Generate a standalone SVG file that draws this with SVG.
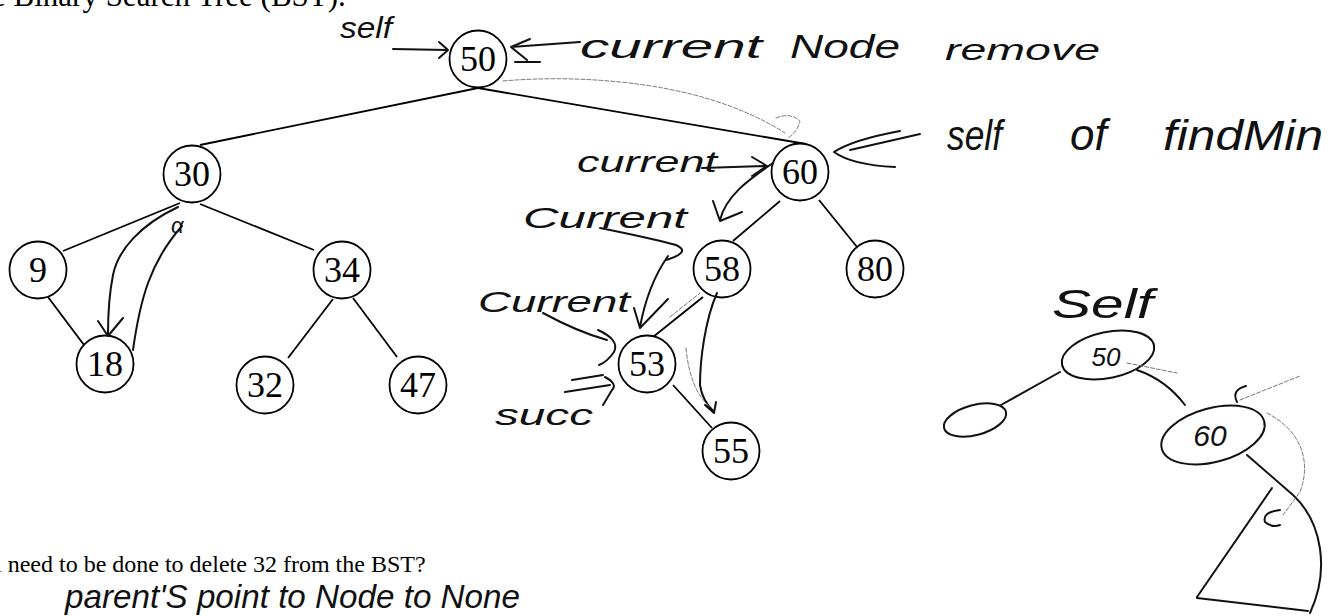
<svg xmlns="http://www.w3.org/2000/svg" width="1332" height="616" viewBox="0 0 1332 616">
  <style>
    .print { font-family: "Liberation Serif", "Times New Roman", serif; fill: #000; }
    .node circle { fill: #fff; stroke: #000; stroke-width: 1.8; }
    .node text { font-family: "Liberation Serif", "Times New Roman", serif; font-size: 36px; text-anchor: middle; fill: #000; }
    .edge { stroke: #000; stroke-width: 1.8; fill: none; }
    .hand { font-family: "Liberation Sans", Arial, sans-serif; font-style: italic; fill: #111; }
    .ink { stroke: #111; stroke-width: 2; fill: none; stroke-linecap: round; stroke-linejoin: round; }
    .faint { stroke: #777; stroke-width: 1; fill: none; stroke-dasharray: 4 2; stroke-linecap: round; }
  </style>

  <rect width="1332" height="616" fill="#fff"/>

  <!-- printed question text -->
  <text class="print" x="-8" y="6" font-size="31">e Binary Search Tree (BST).</text>
  <text class="print" x="-5" y="572" font-size="24">l need to be done to delete 32 from the BST?</text>

  <!-- tree edges -->
  <g id="connectors">
    <line class="edge" x1="478" y1="88" x2="200" y2="145"/>
    <line class="edge" x1="478" y1="88" x2="806" y2="144"/>
    <line class="edge" x1="180" y1="203" x2="63" y2="251"/>
    <line class="edge" x1="200" y1="204" x2="314" y2="250"/>
    <line class="edge" x1="48" y1="297" x2="84" y2="345"/>
    <line class="edge" x1="333" y1="299" x2="288" y2="358"/>
    <line class="edge" x1="353" y1="298" x2="397" y2="357"/>
    <line class="edge" x1="780" y1="201" x2="733" y2="241"/>
    <line class="edge" x1="819" y1="200" x2="857" y2="247"/>
    <line class="edge" x1="703" y1="297" x2="653" y2="337"/>
    <line class="edge" x1="673" y1="385" x2="712" y2="428"/>
  </g>

  <!-- tree nodes -->
  <g id="node-50" class="node"><circle cx="478" cy="59" r="28.5"/><text x="478" y="71">50</text></g>
  <g id="node-30" class="node"><circle cx="192" cy="174" r="28.5"/><text x="192" y="186">30</text></g>
  <g id="node-9" class="node"><circle cx="38" cy="270" r="28.5"/><text x="38" y="282">9</text></g>
  <g id="node-34" class="node"><circle cx="342" cy="270" r="28.5"/><text x="342" y="282">34</text></g>
  <g id="node-18" class="node"><circle cx="105" cy="364" r="28.5"/><text x="105" y="376">18</text></g>
  <g id="node-32" class="node"><circle cx="265" cy="385" r="28.5"/><text x="265" y="397">32</text></g>
  <g id="node-47" class="node"><circle cx="418" cy="385" r="28.5"/><text x="418" y="397">47</text></g>
  <g id="node-60" class="node"><circle cx="800" cy="172" r="28.5"/><text x="800" y="184">60</text></g>
  <g id="node-58" class="node"><circle cx="722" cy="269" r="28.5"/><text x="722" y="281">58</text></g>
  <g id="node-80" class="node"><circle cx="875" cy="269" r="28.5"/><text x="875" y="281">80</text></g>
  <g id="node-53" class="node"><circle cx="647" cy="364" r="28.5"/><text x="647" y="376">53</text></g>
  <g id="node-55" class="node"><circle cx="731" cy="451" r="28.5"/><text x="731" y="463">55</text></g>

  <!-- handwritten notes -->
  <g id="notes">
    <text class="hand" x="340" y="38" font-size="30" textLength="52" lengthAdjust="spacingAndGlyphs">self</text>
    <path class="ink" d="M393,49 L447,50 M439,42 L448,50 L439,58"/>

    <path class="ink" d="M530,39 L511,47 L527,60 M511,47 L580,42 M515,62 L540,62"/>
    <text class="hand" x="580" y="58" font-size="34" textLength="182" lengthAdjust="spacingAndGlyphs">current</text>
    <text class="hand" x="790" y="58" font-size="34" textLength="110" lengthAdjust="spacingAndGlyphs">Node</text>
    <text class="hand" x="945" y="60" font-size="30" textLength="155" lengthAdjust="spacingAndGlyphs">remove</text>

    <path class="faint" d="M503,81 Q560,76 620,82 Q720,92 785,133"/>
    <path class="faint" d="M776,118 Q790,112 800,121 Q798,131 788,138"/>

    <path class="ink" d="M900,131 Q852,140 834,152 Q852,165 895,167 M850,150 L920,134"/>
    <text class="hand" x="947" y="150" font-size="42" textLength="55" lengthAdjust="spacingAndGlyphs">self</text>
    <text class="hand" x="1070" y="150" font-size="44">of</text>
    <text class="hand" x="1163" y="150" font-size="42" textLength="160" lengthAdjust="spacingAndGlyphs">findMin</text>

    <text class="hand" x="577" y="172" font-size="30" textLength="140" lengthAdjust="spacingAndGlyphs">current</text>
    <path class="ink" d="M702,168 L766,166 M752,157 L767,166 L752,176"/>

    <path class="ink" d="M773,163 C748,180 726,196 720,220 M713,201 L720,221 L742,212"/>

    <text class="hand" x="523" y="228" font-size="30" textLength="164" lengthAdjust="spacingAndGlyphs">Current</text>
    <path class="ink" d="M600,228 Q650,238 676,245 Q692,252 666,260"/>
    <path class="ink" d="M668,256 C654,276 645,300 640,327 M634,308 L640,328 L668,299"/>

    <text class="hand" x="478" y="312" font-size="30" textLength="152" lengthAdjust="spacingAndGlyphs">Current</text>
    <path class="ink" d="M543,313 Q578,332 607,340 M598,330 Q620,340 614,352 Q607,362 599,365"/>

    <text class="hand" x="495" y="425" font-size="30" textLength="98" lengthAdjust="spacingAndGlyphs">succ</text>
    <path class="ink" d="M572,380 L603,375 M565,392 L610,385 M605,377 Q618,384 612,390 L603,405"/>

    <path class="ink" d="M717,293 C705,320 700,360 700,385 Q702,400 714,412 M705,405 L714,413 L716,402"/>
    <path class="faint" d="M686,348 Q690,390 710,407"/>
    <path class="faint" d="M670,317 L700,293"/>

    <path class="ink" d="M178,207 C140,225 118,250 113,275 C108,300 108,320 108,334 M98,321 L108,336 L123,318"/>
    <path class="ink" d="M133,350 C140,300 150,262 182,226" stroke-width="1.5"/>
    <text class="hand" x="171" y="233" font-size="22">α</text>

    <text class="hand" x="1052" y="318" font-size="40" textLength="101" lengthAdjust="spacingAndGlyphs">Self</text>
  </g>

  <!-- sketch of the subtree on the right -->
  <g id="sketch">
    <ellipse class="ink" cx="1108" cy="355" rx="47" ry="23" transform="rotate(-12 1108 355)"/>
    <text class="hand" x="1106" y="366" font-size="26" text-anchor="middle">50</text>
    <path class="faint" d="M1127,363 L1177,373"/>
    <path class="ink" d="M1060,372 L1001,405"/>
    <ellipse class="ink" cx="975" cy="420" rx="32" ry="15" transform="rotate(-15 975 420)"/>
    <path class="ink" d="M1137,370 Q1166,380 1185,405"/>
    <ellipse class="ink" cx="1213" cy="435" rx="53" ry="27" transform="rotate(-15 1213 435)"/>
    <text class="hand" x="1210" y="446" font-size="30" text-anchor="middle">60</text>
    <path class="faint" d="M1240,400 L1300,376"/>
    <path class="ink" d="M1237,402 Q1231,390 1246,386" stroke-width="1.5"/>
    <path class="ink" d="M1247,455 L1293,495 C1322,522 1330,570 1310,613"/>
    <path class="ink" d="M1272,488 L1197,597"/>
    <path class="ink" d="M1197,598 L1308,611" stroke-width="1.4"/>
    <path class="faint" d="M1267,413 C1300,430 1312,460 1300,492 L1283,515"/>
    <path class="ink" d="M1280,510 Q1262,512 1265,522 Q1272,528 1280,525" stroke-width="1.3"/>
  </g>

  <text class="hand" x="65" y="608" font-size="34" textLength="455" lengthAdjust="spacingAndGlyphs">parent'S point to Node to None</text>
</svg>
